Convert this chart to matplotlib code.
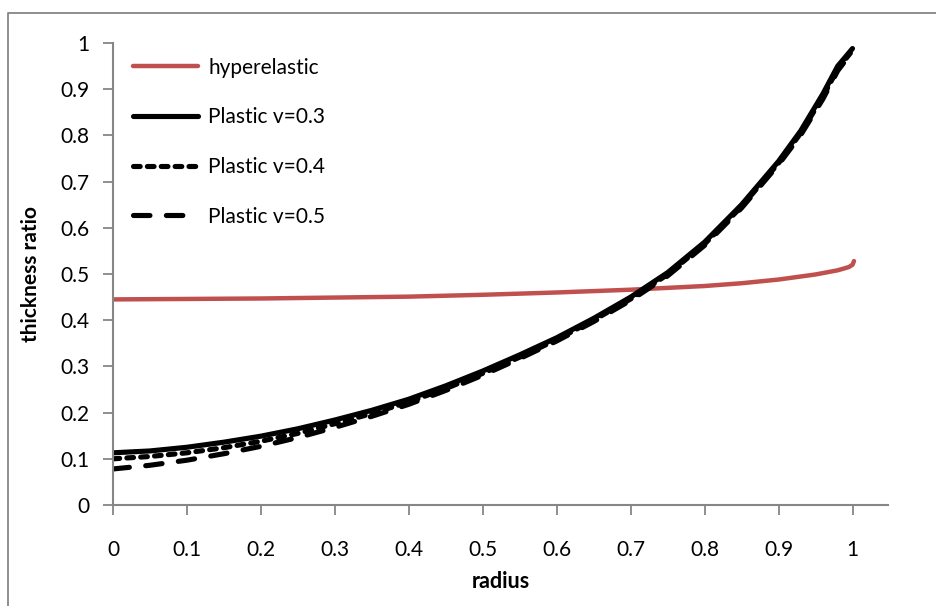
import matplotlib
matplotlib.use("Agg")
import matplotlib.pyplot as plt
from matplotlib.lines import Line2D

# radius positions and thickness ratios for each model
radius_hyper = [0.0, 0.1, 0.2, 0.3, 0.4, 0.5, 0.6, 0.7, 0.8, 0.85, 0.9, 0.95, 0.98, 0.995, 1.0, 1.002]
ratio_hyper = [0.445, 0.446, 0.447, 0.449, 0.451, 0.455, 0.460, 0.466, 0.474, 0.480, 0.488, 0.499, 0.508, 0.515, 0.520, 0.528]

radius_plastic = [0.0, 0.05, 0.1, 0.15, 0.2, 0.25, 0.3, 0.35, 0.4, 0.45, 0.5, 0.55, 0.6,
                  0.65, 0.7, 0.75, 0.8, 0.85, 0.9, 0.93, 0.96, 0.98, 1.0]
ratio_v03 = [0.113, 0.117, 0.125, 0.136, 0.149, 0.165, 0.184, 0.205, 0.229, 0.258, 0.290, 0.325, 0.362,
             0.404, 0.450, 0.503, 0.569, 0.650, 0.744, 0.81, 0.89, 0.95, 0.988]
ratio_v04 = [0.100, 0.105, 0.113, 0.124, 0.138, 0.155, 0.176, 0.198, 0.223, 0.252, 0.285, 0.320, 0.358,
             0.400, 0.446, 0.499, 0.565, 0.646, 0.740, 0.805, 0.884, 0.944, 0.984]
ratio_v05 = [0.078, 0.086, 0.097, 0.111, 0.127, 0.146, 0.168, 0.192, 0.218, 0.248, 0.281, 0.317, 0.355,
             0.397, 0.443, 0.496, 0.562, 0.643, 0.737, 0.801, 0.879, 0.940, 0.982]

labels = ["hyperelastic", "Plastic v=0.3", "Plastic v=0.4", "Plastic v=0.5"]
xticks = [0, 0.1, 0.2, 0.3, 0.4, 0.5, 0.6, 0.7, 0.8, 0.9, 1]
yticks = [0, 0.1, 0.2, 0.3, 0.4, 0.5, 0.6, 0.7, 0.8, 0.9, 1]

plt.rcParams["font.family"] = ["Lato", "DejaVu Sans"]
W, H = 936, 606
fig = plt.figure(figsize=(W / 100, H / 100), dpi=100)
ax = fig.add_axes([113 / W, 1 - 505 / H, (888 - 113) / W, (505 - 43) / H])

grey = "#868686"
lw = 3.7
ax.plot(radius_hyper, ratio_hyper, color="#c0504d", lw=3.2, solid_capstyle="round",
        label=labels[0])
ax.plot(radius_plastic, ratio_v03, color="black", lw=lw, solid_capstyle="round",
        label=labels[1])
ax.plot(radius_plastic, ratio_v04, color="black", lw=lw, dashes=(1.3, 1.4),
        dash_capstyle="round", label=labels[2])
ax.plot(radius_plastic, ratio_v05, color="black", lw=lw, dashes=(3.2, 3.2),
        dash_capstyle="round", label=labels[3])

ax.set_xlim(0, 1.048)
ax.set_ylim(0, 1)
ax.set_xticks(xticks)
ax.set_yticks(yticks)
ax.set_xticklabels([f"{t:g}" for t in xticks])
ax.set_yticklabels([f"{t:g}" for t in yticks])
ax.tick_params(axis="both", direction="out", length=7, width=1.3, color=grey,
               labelsize=15, labelcolor="black")
ax.tick_params(axis="x", pad=18)
ax.tick_params(axis="y", pad=10)
for side in ("top", "right"):
    ax.spines[side].set_visible(False)
for side in ("left", "bottom"):
    ax.spines[side].set_color(grey)
    ax.spines[side].set_linewidth(1.5)

ax.set_xlabel("radius", fontsize=15.5, fontweight="bold", labelpad=8)
ax.set_ylabel("thickness ratio", fontsize=15, fontweight="bold", labelpad=14)

leg = ax.legend(loc="upper left", bbox_to_anchor=(20 / 775, 0.968), frameon=False,
                fontsize=15, handlelength=3.1, handletextpad=0.5, labelspacing=1.42,
                borderpad=0, borderaxespad=0)

# chart area frame
fig.add_artist(Line2D([8 / W, 8 / W, 1.0], [0.0, 1 - 13 / H, 1 - 13 / H],
                      transform=fig.transFigure, color=grey, lw=1.3))

fig.savefig("out.png", dpi=100)
